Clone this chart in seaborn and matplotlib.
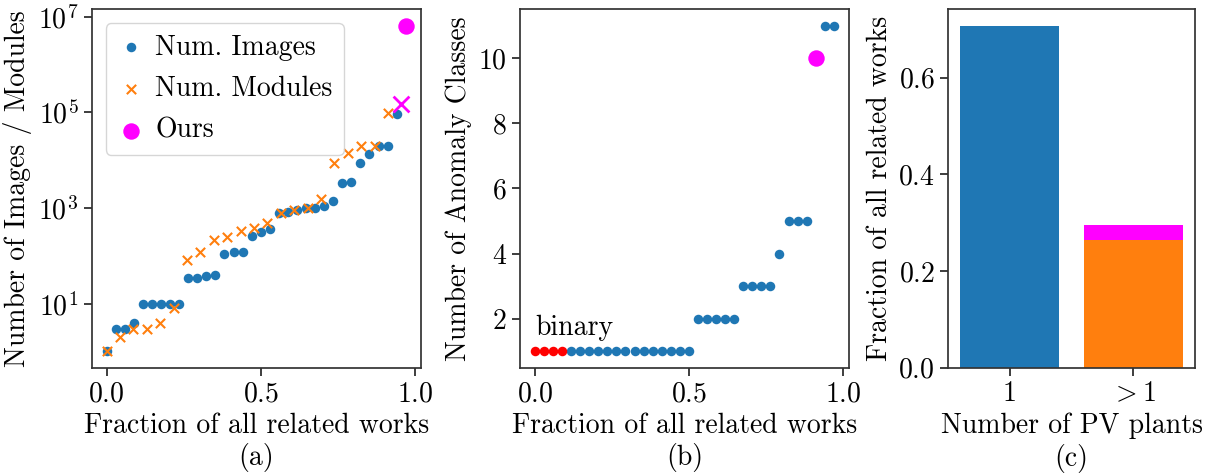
import numpy as np
import matplotlib
matplotlib.use("Agg")
import matplotlib.pyplot as plt
import seaborn as sns

# (a) sorted dataset sizes of related works
num_images = [1, 3, 3, 4, 10, 10, 10, 10, 10, 34, 34, 37, 40, 107, 118, 118,
              263, 310, 363, 785, 810, 890, 1000, 1000, 1120, 1390, 3330, 3530,
              8900, 13500, 19500, 19500, 91000]
num_modules = [1, 2, 3, 3, 4, 8, 83, 120, 210, 246, 324, 382, 485, 790, 890,
               1000, 1540, 8900, 14100, 20000, 20000, 97500]
ours_images = 6.5e6
ours_modules = 1.52e5

# (b) number of anomaly classes (first n_binary works are binary)
num_classes = [1] * 18 + [2] * 5 + [3] * 4 + [4] + [5] * 3 + [11] * 2
n_binary = 4
ours_classes = 10

# (c) number of PV plants
plant_labels = ["1", "$>1$"]
plant_counts = [24, 9]
ours_plants = 1

blue, orange, magenta = "#1f77b4", "#ff7f0e", "#ff00ff"

sns.set_theme(style="ticks")
plt.rcParams.update({
    "font.family": "serif",
    "font.serif": ["cmr10"],
    "mathtext.fontset": "cm",
    "axes.formatter.use_mathtext": True,
    "font.size": 20,
    "axes.labelsize": 20,
    "xtick.labelsize": 20,
    "ytick.labelsize": 20,
    "legend.fontsize": 20,
    "axes.unicode_minus": False,
    "text.color": "black",
    "axes.labelcolor": "black",
    "xtick.labelcolor": "black",
    "ytick.labelcolor": "black",
    "axes.edgecolor": "#333333",
})

fig, axes = plt.subplots(1, 3, figsize=(12.05, 4.74), dpi=100,
                         gridspec_kw={"width_ratios": [329, 329, 247]})
fig.subplots_adjust(left=0.0761, right=0.9917, top=0.9804, bottom=0.2243,
                    wspace=0.329)

# ---- (a)
ax = axes[0]
x_img = np.arange(len(num_images) + 1) / (len(num_images) + 1)
x_mod = np.arange(len(num_modules) + 1) / (len(num_modules) + 1)
sns.scatterplot(x=x_img[:-1], y=num_images, color=blue, s=47, linewidth=0,
                ax=ax, label="Num. Images")
sns.scatterplot(x=x_mod[:-1], y=num_modules, color=orange, marker="x", s=45,
                linewidth=1.5, ax=ax, label="Num. Modules")
sns.scatterplot(x=[x_img[-1]], y=[ours_images], color=magenta, s=140,
                linewidth=0, ax=ax, label="Ours")
sns.scatterplot(x=[x_mod[-1]], y=[ours_modules], color=magenta, marker="x",
                s=130, linewidth=2, ax=ax)
ax.set_yscale("log")
ax.minorticks_off()
ax.set_xlabel("Fraction of all related works\n(a)")
ax.set_ylabel("Number of Images / Modules")
ax.legend(loc="upper left", handlelength=1.06, handletextpad=0.33,
          labelspacing=0.55)

# ---- (b)
ax = axes[1]
all_classes = sorted(num_classes + [ours_classes])
x_cls = np.arange(len(all_classes)) / len(all_classes)
ours_idx = all_classes.index(ours_classes)
rel_x = np.delete(x_cls, ours_idx)
sns.scatterplot(x=rel_x[n_binary:], y=num_classes[n_binary:], color=blue,
                s=47, linewidth=0, ax=ax)
sns.scatterplot(x=rel_x[:n_binary], y=num_classes[:n_binary], color="red",
                s=47, linewidth=0, ax=ax)
sns.scatterplot(x=[x_cls[ours_idx]], y=[ours_classes], color=magenta, s=140,
                linewidth=0, ax=ax)
ax.text(0.0, 1.5, "binary")
ax.set_xlabel("Fraction of all related works\n(b)")
ax.set_ylabel("Number of Anomaly Classes")

# ---- (c)
ax = axes[2]
total = sum(plant_counts) + ours_plants
frac_total = [plant_counts[0] / total, (plant_counts[1] + ours_plants) / total]
frac_rel = [c / total for c in plant_counts]
sns.barplot(x=plant_labels, y=frac_total, hue=plant_labels,
            palette=[blue, magenta], saturation=1, legend=False,
            linewidth=0, ax=ax)
sns.barplot(x=plant_labels, y=frac_rel, hue=plant_labels,
            palette=[blue, orange], saturation=1, legend=False,
            linewidth=0, ax=ax)
ax.set_xlabel("Number of PV plants\n(c)")
ax.set_ylabel("Fraction of all related works")

fig.savefig("out.png", dpi=100)
